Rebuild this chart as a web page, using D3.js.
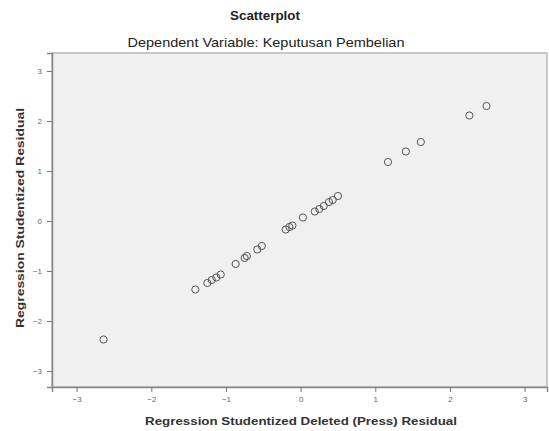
<!DOCTYPE html>
<html lang="en">
<head>
<meta charset="UTF-8">
<title>Scatterplot</title>
<style>
html,body{margin:0;width:100vw;height:100vh;overflow:hidden;background:#fff;font-family:"Liberation Sans",Arial,Helvetica,sans-serif;}
svg{display:block;}
</style>
</head>
<body>
<svg width="549" height="431"></svg>
<script src="https://cdn.jsdelivr.net/npm/d3@7"></script>
<script>
const xVals=[-2.64,-1.41,-1.25,-1.19,-1.13,-1.07,-0.87,-0.75,-0.72,-0.58,-0.52,-0.20,-0.15,-0.11,0.03,0.19,0.25,0.31,0.38,0.43,0.50,1.17,1.41,1.61,2.26,2.49];
const yVals=[-2.37,-1.37,-1.24,-1.18,-1.13,-1.07,-0.86,-0.74,-0.70,-0.57,-0.50,-0.17,-0.12,-0.09,0.07,0.19,0.24,0.30,0.38,0.42,0.50,1.18,1.39,1.58,2.11,2.30];
const ticks=[-3,-2,-1,0,1,2,3];

const svg=d3.select("svg");
const m={l:52,r:2,t:53,b:44};
const W=549,H=431;
const x=d3.scaleLinear().domain([-3.33,3.3]).range([m.l,W-m.r]);
const y=d3.scaleLinear().domain([-3.32,3.36]).range([H-m.b,m.t]);

svg.append("rect").attr("x",m.l).attr("y",m.t)
  .attr("width",W-m.r-m.l).attr("height",H-m.b-m.t)
  .attr("fill","#f0f0f0").attr("stroke","#a8a8a8").attr("stroke-width",1.2);

const xa=svg.append("g").attr("transform",`translate(0,${H-m.b})`)
  .call(d3.axisBottom(x).tickValues(ticks).tickSize(5).tickPadding(4).tickFormat(d3.format("d")));
const ya=svg.append("g").attr("transform",`translate(${m.l},0)`)
  .call(d3.axisLeft(y).tickValues(ticks).tickSize(5).tickPadding(5).tickFormat(d3.format("d")));
[xa,ya].forEach(a=>{
  a.select(".domain").attr("stroke","#888").attr("stroke-width",1.5);
  a.selectAll(".tick line").attr("stroke","#777");
  a.selectAll(".tick text").attr("fill","#666").style("font-size","8px").style("font-family","Liberation Sans,Arial,sans-serif");
});

svg.append("g").selectAll("circle").data(xVals).join("circle")
  .attr("cx",d=>x(d)).attr("cy",(d,i)=>y(yVals[i])).attr("r",3.6)
  .attr("fill","none").attr("stroke","#555").attr("stroke-width",1);

// titles, widths matched to the reference
svg.append("text").attr("x",265).attr("y",20).attr("text-anchor","middle")
  .attr("textLength",70).attr("lengthAdjust","spacingAndGlyphs")
  .style("font-size","12px").style("font-weight","bold").attr("fill","#222").text("Scatterplot");
svg.append("text").attr("x",266).attr("y",47).attr("text-anchor","middle")
  .attr("textLength",277).attr("lengthAdjust","spacingAndGlyphs")
  .style("font-size","13px").attr("fill","#222").text("Dependent Variable: Keputusan Pembelian");
svg.append("text").attr("x",301).attr("y",425).attr("text-anchor","middle")
  .attr("textLength",312).attr("lengthAdjust","spacingAndGlyphs")
  .style("font-size","11px").style("font-weight","bold").attr("fill","#333").text("Regression Studentized Deleted (Press) Residual");
svg.append("text").attr("transform","translate(24,218) rotate(-90)").attr("text-anchor","middle")
  .attr("textLength",220).attr("lengthAdjust","spacingAndGlyphs")
  .style("font-size","11px").style("font-weight","bold").attr("fill","#333").text("Regression Studentized Residual");
</script>
</body>
</html>
